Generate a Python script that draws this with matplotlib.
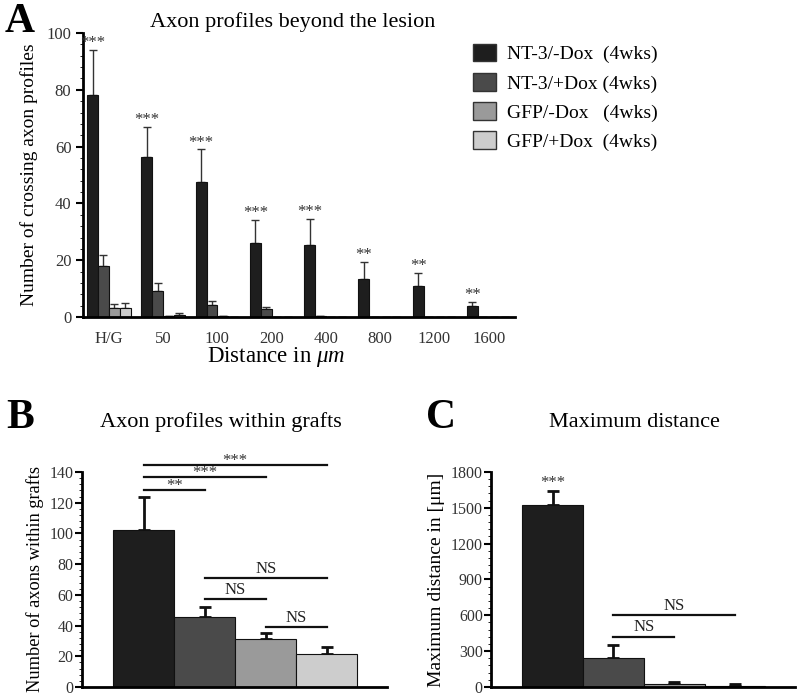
import matplotlib
matplotlib.use("Agg")
import matplotlib.pyplot as plt
import numpy as np
from matplotlib.ticker import MultipleLocator
from matplotlib.patches import Patch

plt.rcParams['font.family'] = ['Liberation Serif', 'DejaVu Serif']
plt.rcParams['mathtext.fontset'] = 'custom'
plt.rcParams['mathtext.rm'] = 'Liberation Serif'
plt.rcParams['mathtext.it'] = 'Liberation Serif:italic'

# Panel A data
distancias = ['H/G', '50', '100', '200', '400', '800', '1200', '1600']
grupos = ['NT-3/-Dox  (4wks)', 'NT-3/+Dox (4wks)', 'GFP/-Dox   (4wks)', 'GFP/+Dox  (4wks)']
colores = ['#1e1e1e', '#4a4a4a', '#9a9a9a', '#cdcdcd']
nt3_menos = [78, 56.5, 47.5, 26, 25.5, 13.5, 11, 4]
nt3_menos_err = [16, 10.5, 11.5, 8.3, 9, 6, 4.5, 1.4]
nt3_mas = [18, 9, 4.3, 2.7, 0.3, 0, 0, 0]
nt3_mas_err = [4, 3, 1.5, 0.8, 0, 0, 0, 0]
gfp_menos = [3.2, 0.5, 0.3, 0, 0, 0, 0, 0]
gfp_menos_err = [1.3, 0, 0, 0, 0, 0, 0, 0]
gfp_mas = [3.2, 0.8, 0, 0, 0, 0, 0, 0]
gfp_mas_err = [1.7, 0.6, 0, 0, 0, 0, 0, 0]
estrellas_a = ['***', '***', '***', '***', '***', '**', '**', '**']

# Panel B data
axones = [102.5, 45.5, 31, 21.5]
axones_err = [21, 6.5, 4, 4.5]
# (bar i, bar j, height, label)
sig_b = [(0, 3, 144.5, '***'), (0, 2, 136.5, '***'), (0, 1, 128, '**'),
         (1, 3, 71, 'NS'), (1, 2, 57, 'NS'), (2, 3, 39, 'NS')]

# Panel C data
distancia_max = [1520, 240, 22, 12]
distancia_max_err = [120, 110, 18, 13]
sig_c = [(1, 3, 600, 'NS'), (1, 2, 420, 'NS')]

fig = plt.figure(figsize=(8, 6.98), dpi=100)

# ---------- Panel A ----------
ax = fig.add_axes([0.104, 0.5458, 0.540, 0.4069])
x = np.arange(len(distancias))
w = 0.2
series = [(nt3_menos, nt3_menos_err), (nt3_mas, nt3_mas_err),
          (gfp_menos, gfp_menos_err), (gfp_mas, gfp_mas_err)]
for k, (vals, errs) in enumerate(series):
    pos = x + (k - 1.5) * w
    ax.bar(pos, vals, w, color=colores[k], edgecolor='#111111', linewidth=0.8,
           label=grupos[k], zorder=2)
    lower = np.zeros(len(errs))
    ax.errorbar(pos, vals, yerr=[lower, errs], fmt='none', ecolor='#333333',
                elinewidth=1.0, capsize=3, capthick=1.0, zorder=1)
for i in range(len(distancias)):
    ax.annotate(estrellas_a[i], (x[i] - 1.5 * w, nt3_menos[i] + nt3_menos_err[i]),
                xytext=(0, 5), textcoords='offset points',
                ha='center', va='center', fontsize=12, color='#333333')

ax.set_xlim(-0.474, 7.49)
ax.set_ylim(0, 100)
ax.set_xticks(x)
ax.set_xticklabels(distancias)
ax.yaxis.set_major_locator(MultipleLocator(20))
ax.yaxis.set_minor_locator(MultipleLocator(4))
ax.tick_params(axis='x', length=0, pad=10, labelsize=12, labelcolor='#333333')
ax.tick_params(axis='y', which='major', length=5, width=1.5, labelsize=12, labelcolor='#333333')
ax.tick_params(axis='y', which='minor', length=2.5, width=0.6)
for s in ['top', 'right']:
    ax.spines[s].set_visible(False)
ax.spines['left'].set_linewidth(2)
ax.spines['bottom'].set_linewidth(2)
ax.set_ylabel('Number of crossing axon profiles', fontsize=14, labelpad=6)
ax.set_xlabel(r'Distance in $\mathit{\mu m}$', fontsize=16.5)
ax.xaxis.set_label_coords(0.447, -0.1)
fig.text(0.366, 0.968, 'Axon profiles beyond the lesion', ha='center', va='center', fontsize=16)
fig.text(0.006, 0.968, 'A', ha='left', va='center', fontsize=30, fontweight='bold')

handles = [Patch(facecolor=colores[k], edgecolor='#333333', label=grupos[k]) for k in range(4)]
fig.legend(handles=handles, loc='upper left', bbox_to_anchor=(0.569, 0.962),
           frameon=False, fontsize=14, handlelength=1.2, handleheight=1.0,
           handletextpad=0.55, labelspacing=0.5)

# ---------- Panel B and C ----------
def panel_barras(rect, vals, errs, sigs, ylim, major, minor, ylabel, ylsize,
                 title, letra, lx, tx):
    ax = fig.add_axes(rect)
    pos = np.arange(len(vals))
    ax.bar(pos, vals, 1.0, color=colores, edgecolor='#111111', linewidth=0.8, zorder=2)
    lower = np.zeros(len(errs))
    ax.errorbar(pos, vals, yerr=[lower, errs], fmt='none', ecolor='#111111',
                elinewidth=2, capsize=4, capthick=2, zorder=1)
    for i, j, h, lab in sigs:
        ax.plot([pos[i], pos[j]], [h, h], color='#111111', lw=1.6, clip_on=False)
        if lab == 'NS':
            ax.annotate(lab, ((pos[i] + pos[j]) / 2, h), xytext=(0, 1),
                        textcoords='offset points', ha='center', va='bottom',
                        fontsize=12, color='#222222', annotation_clip=False)
        else:
            ax.annotate(lab, ((pos[i] + pos[j]) / 2, h), xytext=(0, 3),
                        textcoords='offset points', ha='center', va='center',
                        fontsize=12, color='#333333', annotation_clip=False)
    ax.set_xlim(-1.01, 3.99)
    ax.set_ylim(0, ylim)
    ax.set_xticks([])
    ax.yaxis.set_major_locator(MultipleLocator(major))
    ax.yaxis.set_minor_locator(MultipleLocator(minor))
    ax.tick_params(axis='y', which='major', length=5, width=1.5, labelsize=11.5,
                   labelcolor='#333333', pad=1)
    ax.tick_params(axis='y', which='minor', length=2.5, width=0.6)
    for s in ['top', 'right']:
        ax.spines[s].set_visible(False)
    ax.spines['left'].set_linewidth(2)
    ax.spines['bottom'].set_linewidth(2)
    ax.set_ylabel(ylabel, fontsize=ylsize, labelpad=4)
    fig.text(tx, 0.395, title, ha='center', va='center', fontsize=16)
    fig.text(lx, 0.401, letra, ha='left', va='center', fontsize=30, fontweight='bold')
    return ax

panel_barras([0.1025, 0.0158, 0.3815, 0.308], axones, axones_err, sig_b,
             140, 20, 4, 'Number of axons within grafts', 13.2,
             'Axon profiles within grafts', 'B', 0.008, 0.276)
axc = panel_barras([0.614, 0.0158, 0.38, 0.308], distancia_max, distancia_max_err, sig_c,
                   1800, 300, 60, 'Maximum distance in [μm]', 14,
                   'Maximum distance', 'C', 0.532, 0.7925)
axc.annotate('***', (0, distancia_max[0] + distancia_max_err[0]), xytext=(0, 6),
             textcoords='offset points', ha='center', va='center',
             fontsize=12, color='#333333')

fig.savefig('out.png', dpi=100)
